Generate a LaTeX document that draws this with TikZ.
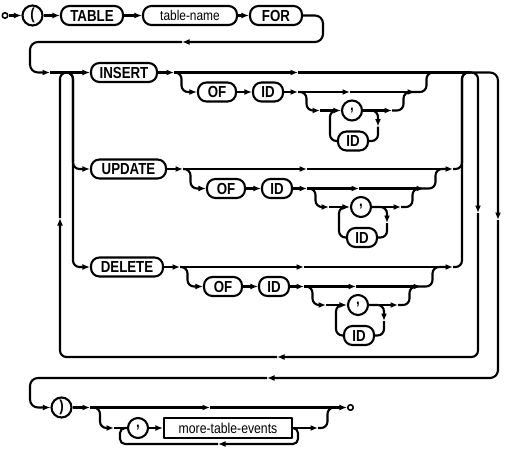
\documentclass[tikz,border=0pt]{standalone}
\usepackage{fontspec}
\setmainfont{Liberation Sans}
\newfontfamily\kwfont{Liberation Sans}[FakeStretch=0.83]
\newfontfamily\ntfont{Liberation Sans}[FakeStretch=0.85]
\usetikzlibrary{arrows.meta}
\begin{document}
\begin{tikzpicture}[x=1pt,y=-1pt,line width=2.1pt,line join=round,
  >={Latex[length=7.5pt,width=6pt]},
  rr/.style={rounded corners=6.5pt},
  wr/.style={rounded corners=8pt},
  kw/.style={draw,rounded corners=8.5pt,minimum height=19pt,inner sep=0pt,font=\kwfont\bfseries\fontsize{16}{16}\selectfont},
  nt/.style={draw,rounded corners=8.5pt,minimum height=19pt,inner sep=0pt,font=\ntfont\fontsize{14}{14}\selectfont},
  pc/.style={draw,circle,minimum size=20pt,inner sep=0pt,font=\kwfont\bfseries\fontsize{16}{16}\selectfont},
  bx/.style={draw,rectangle,minimum height=20pt,minimum width=128pt,inner sep=0pt,font=\ntfont\fontsize{14.4}{14.4}\selectfont},
  term/.style={draw,circle,minimum size=5.5pt,inner sep=0pt,line width=1.6pt,fill=white}]
\useasboundingbox (0,0) rectangle (507,453);

% ---- row 1
\node[term] (start) at (5,15.5) {};
\node[pc] (lp) at (32.5,15.5) {(};
\node[kw,minimum width=62pt] (table) at (92,15.5) {TABLE};
\node[nt,minimum width=94pt] (tname) at (190,15.5) {table-name};
\node[kw,minimum width=52pt] (for) at (276,15.5) {FOR};
\draw[->] (start) -- (lp);
\draw[->] (lp) -- (table);
\draw[->] (table) -- (tname);
\draw[->] (tname) -- (for);
\draw[->,wr] (for.east) -- (323,15.5) -- (323,42) -- (182,42);
\draw[->,wr] (182,42) -- (30,42) -- (30,72.5) -- (50,72.5);

% ---- choice rows
\foreach \k/\lab/\y/\X/\w in {ins/INSERT/72.5/0/66, upd/UPDATE/169/9/75, del/DELETE/267/6/72}{
  \pgfmathsetmacro\ya{\y+19.5}
  \pgfmathsetmacro\yb{\y+38}
  \pgfmathsetmacro\yc{\y+68.5}
  \node[kw,minimum width=\w pt] (\k) at ({91+\w/2},\y) {\lab};
  \node[kw,minimum width=38pt] (\k-of) at ({217+\X},\ya) {OF};
  \node[kw,minimum width=30pt] (\k-id) at ({268+\X},\ya) {ID};
  \node[pc] (\k-c) at ({352+\X},\yb) {,};
  \node[kw,minimum width=30pt] (\k-idb) at ({353+\X},\yc) {ID};
  \draw[->] (\k.east) -- ({174+\X},\y);
  \draw[->] ({174+\X},\y) -- ({298+\X},\y);
  \draw[rr,->] ({174+\X},\y) -- ({181.5+\X},\y) -- ({181.5+\X},\ya) -- (\k-of.west);
  \draw[->] (\k-of) -- (\k-id);
  \draw[->] (\k-id.east) -- ({298+\X},\ya);
  \draw[->] ({298+\X},\ya) -- ({350+\X},\ya);
  \draw[->] ({350+\X},\ya) -- ({415+\X},\ya);
  \draw[rr,->] ({298+\X},\ya) -- ({306.5+\X},\ya) -- ({306.5+\X},\yb) -- ({320+\X},\yb);
  \draw[->] ({320+\X},\yb) -- (\k-c.west);
  \draw[rr] (\k-idb.west) -- ({330+\X},\yc) -- ({330+\X},\yb) -- ({337+\X},\yb);
  \draw[rr,->] (\k-c.east) -- ({378+\X},\yb) -- ({378+\X},{\yb+16});
  \draw[rr] ({378+\X},{\yb+16}) -- ({378+\X},\yc) -- (\k-idb.east);
  \draw[->] (\k-c.east) -- ({392+\X},\yb);
  \draw[rr] ({392+\X},\yb) -- ({403.5+\X},\yb) -- ({403.5+\X},\ya) -- ({415+\X},\ya);
  \draw[rr] ({415+\X},\ya) -- ({426.5+\X},\ya) -- ({426.5+\X},\y) -- ({440+\X},\y);
}

% entries into the choice
\draw[->] (50,72.5) -- (ins.west);
\draw[rr,->] (60,72.5) -- (73,72.5) -- (73,169) -- (upd.west);
\draw[rr,->] (60,72.5) -- (73,72.5) -- (73,267) -- (del.west);
% exits of the choice
\draw (298,72.5) -- (470,72.5);
\draw[->] (307,169) -- (453,169);
\draw[rr] (453,169) -- (462,169) -- (462,72.5) -- (470,72.5);
\draw[->] (304,267) -- (453,267);
\draw[rr] (453,267) -- (462,267) -- (462,72.5) -- (470,72.5);

% repetition loop
\draw[rr,->] (468,72.5) -- (478,72.5) -- (478,213);
\draw[rr,->] (478,213) -- (478,357) -- (277,357);
\draw[rr,->] (277,357) -- (60,357) -- (60,218);
\draw[rr] (60,218) -- (60,72.5) -- (70,72.5);

% ---- last row
\node[pc] (rp) at (61.5,407.5) {)};
\node[pc] (cm) at (138,428) {,};
\node[bx] (mte) at (228,428) {more-table-events};
\node[term] (endc) at (350.5,407.5) {};

\draw[wr,->] (470,72.5) -- (498,72.5) -- (498,220);
\draw[wr,->] (498,220) -- (498,378) -- (267,378);
\draw[wr,->] (267,378) -- (30,378) -- (30,407.5) -- (rp.west);

\draw[->] (rp) -- (90,407.5);
\draw[->] (90,407.5) -- (210,407.5);
\draw[->] (210,407.5) -- (endc);
\draw[rr,->] (90,407.5) -- (100,407.5) -- (100,428) -- (114,428);
\draw (114,428) -- (cm);
\draw[->] (cm) -- (mte);
\draw[->] (mte) -- (318,428);
\draw[rr] (318,428) -- (327.5,428) -- (327.5,407.5) -- (340,407.5);
\draw[rounded corners=5pt,->] (mte.east) -- (298,428) -- (298,444) -- (218,444);
\draw[rounded corners=5pt] (218,444) -- (120,444) -- (120,428) -- (128,428);
\end{tikzpicture}
\end{document}
